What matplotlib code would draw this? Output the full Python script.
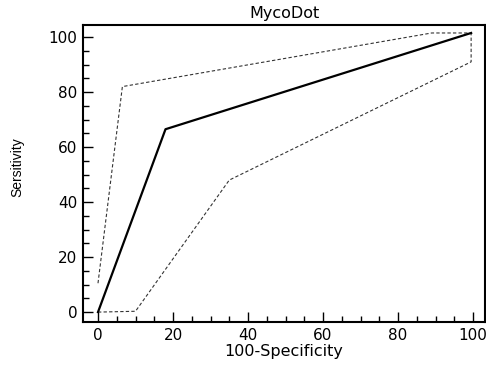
import matplotlib
matplotlib.use("Agg")
import matplotlib.pyplot as plt
from matplotlib.ticker import MultipleLocator

plt.rcParams['font.family'] = ['DejaVu Sans']

roc_x = [0, 18, 99.5]
roc_y = [0, 66.5, 101.5]
upper_x = [0, 6.5, 89, 99.5]
upper_y = [10.5, 82, 101.5, 101.5]
lower_x = [0, 10, 35, 99.5, 99.5]
lower_y = [0, 0.3, 48, 91, 101.5]
xticks = [0, 20, 40, 60, 80, 100]
yticks = [0, 20, 40, 60, 80, 100]

fig = plt.figure(figsize=(4.86, 3.67), dpi=100)
ax = fig.add_axes([83/486, 1-322/367, (485-83)/486, (322-25)/367])

ax.plot(upper_x, upper_y, color='#333333', lw=0.8, ls=(0, (3, 2)))
ax.plot(lower_x, lower_y, color='#333333', lw=0.8, ls=(0, (3, 2)))
ax.plot(roc_x, roc_y, color='black', lw=1.6)

ax.set_xlim(-4, 103.2)
ax.set_ylim(-3.6, 104.4)
ax.set_xticks(xticks)
ax.set_yticks(yticks)
ax.xaxis.set_minor_locator(MultipleLocator(5))
ax.yaxis.set_minor_locator(MultipleLocator(5))
ax.tick_params(which='both', direction='in', top=False, right=False, labelsize=11)
ax.tick_params(which='major', length=7, width=1.0, pad=4)
ax.tick_params(which='minor', length=4, width=1.0)
for s in ax.spines.values():
    s.set_linewidth(1.5)

ax.set_title('MycoDot', fontsize=11.5, pad=5)
ax.set_xlabel('100-Specificity', fontsize=11.5, labelpad=1)
ax.set_ylabel('Sersitivity', fontsize=10,
              family=['Liberation Sans Narrow', 'Liberation Sans', 'DejaVu Sans'])
ax.yaxis.set_label_coords(-0.145, 0.52)

fig.savefig('out.png', dpi=100)
